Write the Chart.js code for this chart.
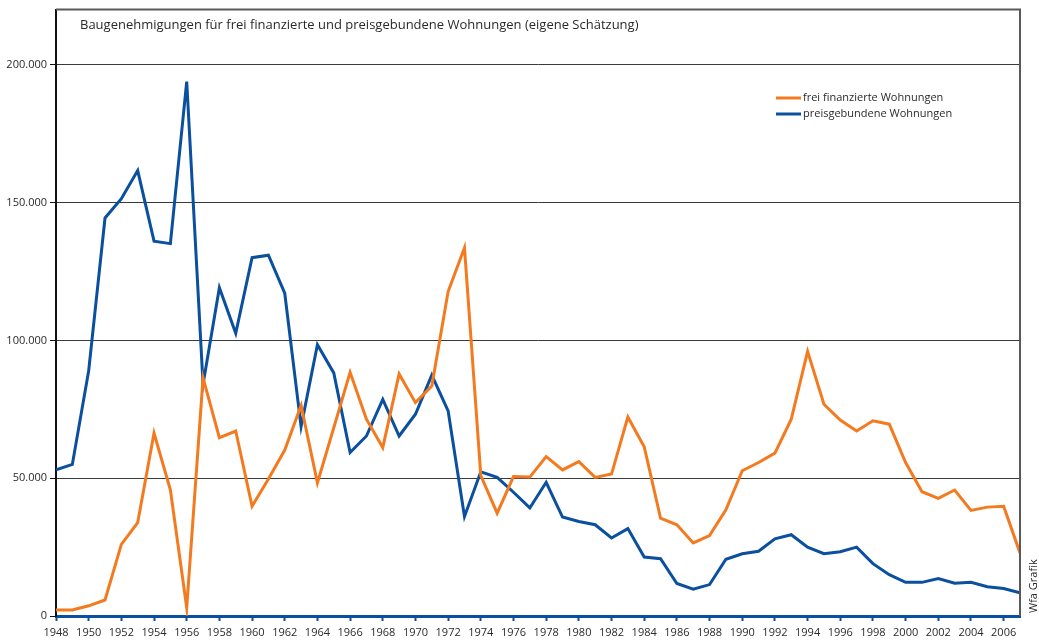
<!DOCTYPE html>
<html>
<head>
<meta charset="utf-8">
<script src="https://cdn.jsdelivr.net/npm/chart.js@4"></script>
<style>
  html, body { margin: 0; padding: 0; background: #fff; }
  #wrap { position: relative; width: 1039px; height: 641px; }
</style>
</head>
<body>
<div id="wrap"><canvas id="chart"></canvas></div>
<script>
const years = [];
for (let y = 1948; y <= 2007; y++) years.push(y);

// frei finanzierte Wohnungen
const freiValues = [
  2200, 2200, 3700, 5800, 26000, 33900, 66400, 45800, 3000, 86400,
  64700, 67100, 39800, 49700, 60200, 76400, 48300, 68300, 88400, 71400,
  61100, 87800, 77400, 83400, 117700, 133600, 50900, 37300, 50600, 50400,
  57800, 53000, 56000, 50300, 51500, 72200, 61400, 35500, 33100, 26500,
  29200, 38500, 52700, 55700, 59100, 71400, 96000, 76800, 71100, 67100,
  70800, 69600, 55700, 45100, 42700, 45700, 38300, 39500, 39800, 22900
];

// preisgebundene Wohnungen
const preisValues = [
  53000, 55000, 89000, 144400, 151400, 161600, 136000, 135100, 193900, 84100,
  119100, 102600, 130000, 130900, 117100, 68700, 98400, 88200, 59300, 65300,
  78600, 65300, 73200, 87400, 74400, 36100, 52300, 50300, 44900, 39200,
  48500, 35900, 34300, 33100, 28300, 31700, 21400, 20800, 11800, 9700,
  11400, 20600, 22600, 23500, 28000, 29500, 25000, 22600, 23300, 25000,
  19000, 15000, 12200, 12200, 13600, 11900, 12200, 10600, 10000, 8400
];

const yTicks = [0, 50000, 100000, 150000, 200000];
const xTicks = years.filter(function (y) { return y % 2 === 0; });

const seriesLabels = ['frei finanzierte Wohnungen', 'preisgebundene Wohnungen'];
const titleText = 'Baugenehmigungen für frei finanzierte und preisgebundene Wohnungen (eigene Schätzung)';

const orange = '#f47a20';
const blue = '#0b4f9f';
const textColor = '#2a2a2a';
const fontFamily = '"Open Sans", "DejaVu Sans", sans-serif';

function toPoints(vals) {
  return years.map(function (yr, i) { return { x: yr, y: vals[i] }; });
}

function thousands(v) {
  return String(Math.round(v)).replace(/\B(?=(\d{3})+(?!\d))/g, '.');
}

// frame, title, legend and credit drawn on the canvas
const decorations = {
  id: 'decorations',
  afterDatasetsDraw(chart) {
    const ctx = chart.ctx;
    const a = chart.chartArea;
    ctx.save();

    ctx.strokeStyle = '#5a5a5a';
    ctx.lineWidth = 2;
    ctx.beginPath();
    ctx.moveTo(a.left, a.top);
    ctx.lineTo(a.right, a.top);
    ctx.lineTo(a.right, a.bottom);
    ctx.stroke();

    ctx.fillStyle = textColor;
    ctx.font = '13px ' + fontFamily;
    ctx.textBaseline = 'middle';
    ctx.textAlign = 'left';
    ctx.fillText(titleText, 80, 25);

    // legend
    const ds = chart.data.datasets;
    ctx.font = '11px ' + fontFamily;
    ds.forEach(function (d, i) {
      const y = 98 + i * 16;
      ctx.strokeStyle = d.borderColor;
      ctx.lineWidth = 3;
      ctx.beginPath();
      ctx.moveTo(776, y);
      ctx.lineTo(801, y);
      ctx.stroke();
      ctx.fillStyle = textColor;
      ctx.fillText(d.label, 803, y);
    });

    // credit
    ctx.translate(1034, 613);
    ctx.rotate(-Math.PI / 2);
    ctx.font = '11px ' + fontFamily;
    ctx.fillText('Wfa Grafik', 0, 0);
    ctx.restore();
  }
};

new Chart(document.getElementById('chart'), {
  type: 'line',
  data: {
    datasets: [
      {
        label: seriesLabels[0],
        data: toPoints(freiValues),
        borderColor: orange,
        backgroundColor: orange,
        borderWidth: 3,
        pointRadius: 0,
        tension: 0
      },
      {
        label: seriesLabels[1],
        data: toPoints(preisValues),
        borderColor: blue,
        backgroundColor: blue,
        borderWidth: 3,
        pointRadius: 0,
        tension: 0
      }
    ]
  },
  options: {
    responsive: true,
    maintainAspectRatio: false,
    animation: false,
    layout: { padding: { top: 5, right: 19, left: 0, bottom: 0 } },
    plugins: {
      legend: { display: false },
      tooltip: { enabled: false }
    },
    scales: {
      x: {
        type: 'linear',
        min: 1948,
        max: 2007,
        afterBuildTicks: function (scale) {
          scale.ticks = xTicks.map(function (v) { return { value: v }; });
        },
        afterFit: function (scale) { scale.height = 25; },
        border: { color: blue, width: 3 },
        grid: {
          drawOnChartArea: false,
          drawTicks: true,
          tickLength: 5,
          tickColor: blue,
          tickWidth: 2
        },
        ticks: {
          autoSkip: false,
          maxRotation: 0,
          padding: 5,
          color: textColor,
          font: { family: fontFamily, size: 11 },
          callback: function (v) { return String(v); }
        }
      },
      y: {
        min: 0,
        max: 220000,
        afterBuildTicks: function (scale) {
          scale.ticks = yTicks.map(function (v) { return { value: v }; });
        },
        afterFit: function (scale) { scale.width = 56; },
        border: { color: '#111', width: 2 },
        grid: {
          color: '#3a3a3a',
          lineWidth: 1,
          tickLength: 6,
          tickColor: '#111'
        },
        ticks: {
          padding: 3,
          color: textColor,
          font: { family: fontFamily, size: 11 },
          callback: function (v) { return thousands(v); }
        }
      }
    }
  },
  plugins: [decorations]
});
</script>
</body>
</html>
